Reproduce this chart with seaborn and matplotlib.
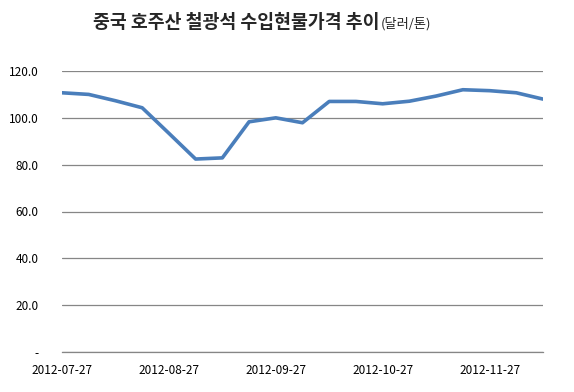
import matplotlib
matplotlib.use('Agg')
import matplotlib.pyplot as plt
import seaborn as sns
import pandas as pd

# weekly spot price (USD/ton), 19 observations
prices = [110.7, 110.0, 107.3, 104.3, 93.4, 82.4, 82.9, 98.3, 100.0, 97.9,
          107.0, 107.0, 106.0, 107.1, 109.3, 112.0, 111.6, 110.7, 108.0]
label_idx = [0, 4, 8, 12, 16]
label_text = ['2012-07-27', '2012-08-27', '2012-09-27', '2012-10-27', '2012-11-27']
y_ticks = [0, 20, 40, 60, 80, 100, 120]
y_labels = ['-', '20.0', '40.0', '60.0', '80.0', '100.0', '120.0']

sns.set_style('white')
plt.rcParams['font.family'] = ['Noto Sans CJK KR', 'DejaVu Sans']

df = pd.DataFrame({'idx': range(len(prices)), 'price': prices})

fig = plt.figure(figsize=(5.74, 3.92), dpi=100)
ax = fig.add_axes([62/574, 40/392, 481/574, 281/392])
sns.lineplot(data=df, x='idx', y='price', ax=ax, color='#4a7ebb', linewidth=2.6)

ax.set_xlim(0, len(prices) - 1)
ax.set_ylim(0, 120)
ax.set_yticks(y_ticks)
ax.set_yticklabels(y_labels)
ax.set_xticks(label_idx)
ax.set_xticklabels(label_text)
ax.yaxis.grid(True, color='#868686', linewidth=0.9)
ax.set_axisbelow(True)
for s in ['top', 'right', 'left']:
    ax.spines[s].set_visible(False)
ax.spines['bottom'].set_color('#868686')
ax.spines['bottom'].set_linewidth(0.9)
ax.tick_params(axis='y', length=0, pad=17, labelsize=8.5, labelcolor='#000000')
ax.tick_params(axis='x', length=0, pad=9, labelsize=8.5, labelcolor='#000000')
ax.set_xlabel('')
ax.set_ylabel('')

t1 = fig.text(93/574, 1 - 23/392, '중국 호주산 철광석 수입현물가격 추이', fontsize=13.2,
              fontweight='bold', ha='left', va='center')
fig.canvas.draw()
bb = t1.get_window_extent()
fig.text(bb.x1 / fig.bbox.width + 0.002, 1 - 24/392, '(달러/톤)', fontsize=9.5,
         ha='left', va='center')

fig.savefig('out.png', dpi=100)
